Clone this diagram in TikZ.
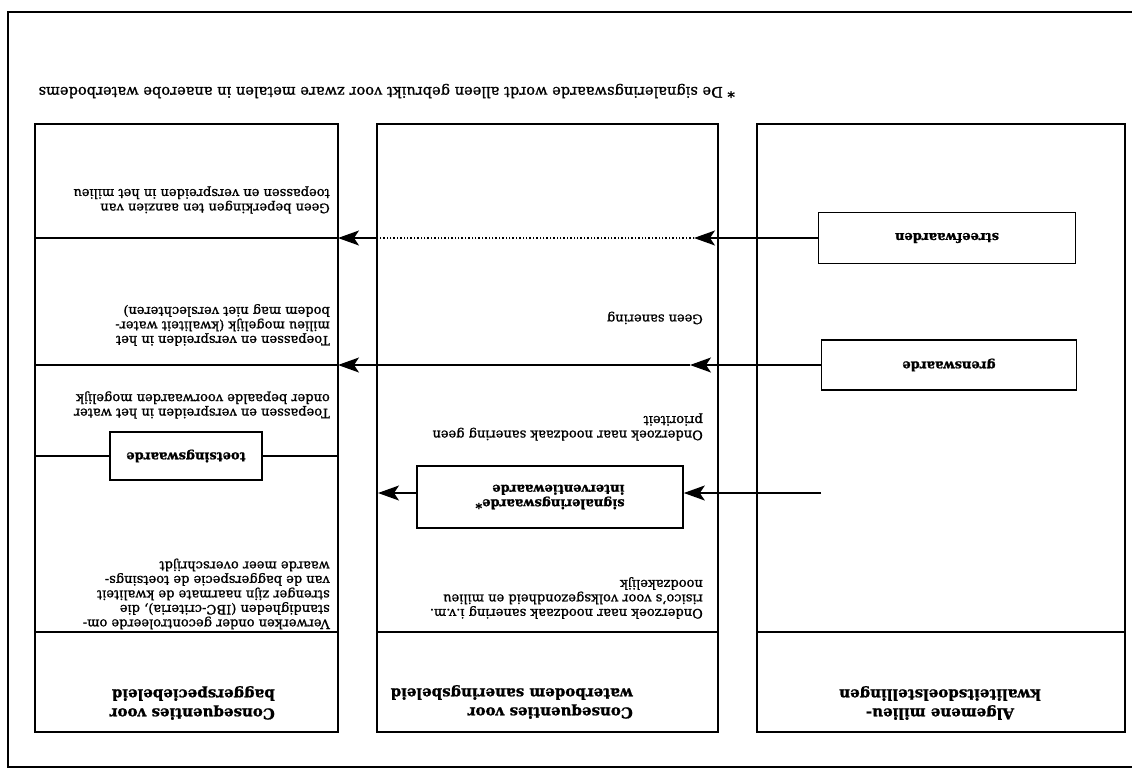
\documentclass[tikz,border=0pt]{standalone}
\usepackage{fontspec}
\setmainfont{DejaVu Serif}[FakeBold=1.2]
\usetikzlibrary{arrows.meta}
\newcommand{\tekstfont}{\fontsize{13}{14.5}\selectfont}
\newcommand{\voetfont}{\fontsize{14.6}{16}\selectfont}
\newcommand{\kopfont}{\fontsize{15}{19}\selectfont\bfseries}

\begin{document}
\begin{tikzpicture}[x=1pt,y=-1pt]
\tikzstyle{kolom} = [line width=2.2pt]
\tikzstyle{scheiding} = [line width=1.5pt]
\tikzstyle{tekst} = [rotate=180,align=left,inner sep=0pt,font=\tekstfont]
\tikzstyle{kop} = [rotate=180,align=left,inner sep=0pt,font=\kopfont]
\tikzstyle{waarde} = [rotate=180,draw,line width=1.6pt,align=left,font=\tekstfont\bfseries]
\tikzstyle{pijl} = [line width=1.4pt,-{Stealth[length=21pt,width=15pt,inset=5pt]}]

\useasboundingbox (0,0) rectangle (1132,769);

% kader
\draw[line width=1.8pt] (1132,12) -- (8,12) -- (8,767) -- (1132,767);

% kolommen
\draw[kolom] (35,124) rectangle (338,732);
\draw[kolom] (377,124) rectangle (718,732);
\draw[kolom] (757,124) rectangle (1125,732);
\draw[scheiding] (35,632) -- (338,632) (377,632) -- (718,632) (757,632) -- (1125,632);

% waarden
\node[waarde, minimum width=257pt, minimum height=51pt] (streef) at (947,238) {streefwaarden};
\node[waarde, minimum width=255pt, minimum height=50pt] (grens) at (949,365) {grenswaarde};
\node[waarde, minimum width=266pt, minimum height=62pt] (signaal) at (550,497) {signaleringswaarde*\\interventiewaarde};
\node[waarde, minimum width=152pt, minimum height=48pt] (toets) at (186,456) {toetsingswaarde};

\draw[scheiding] (35,238) -- (338,238);
\draw[scheiding] (35,365) -- (338,365);
\draw[scheiding] (35,456) -- (toets.east) (toets.west) -- (338,456);

% pijlen
\coordinate (streefpunt) at (694,238);
\coordinate (streefrand) at (377,238);
\coordinate (baggerrand1) at (338,238);
\coordinate (grenspunt) at (690,365);
\coordinate (baggerrand2) at (338,365);
\coordinate (signaalbron) at (821,493);
\coordinate (waterrand) at (378,493);

\draw[pijl] (streef.east) -- (streefpunt);
\draw[line width=1.4pt, dotted] (streefpunt) -- (streefrand);
\draw[pijl] (streefrand) -- (baggerrand1);
\draw[pijl] (grens.east) -- (grenspunt);
\draw[pijl] (grenspunt) -- (baggerrand2);
\draw[pijl] (signaalbron) -- (signaalbron -| signaal.west);
\draw[pijl] (signaal.east |- waterrand) -- (waterrand);

% teksten
\node[kop, anchor=west] (kopbagger) at (275,703) {Consequenties voor\\baggerspeciebeleid};
\node[kop, anchor=west] (kopwater) at (633,702) {Consequenties voor\\waterbodem saneringsbeleid};
\node[kop, align=center] (kopalgemeen) at (940,703) {Algemene milieu-\\kwaliteitsdoelstellingen};

\node[tekst, anchor=west] (verwerken) at (330,594) {Verwerken onder gecontroleerde om-\\standigheden (IBC-criteria), die\\strenger zijn naarmate de kwaliteit\\van de baggerspecie de toetsings-\\waarde meer overschrijdt};
\node[tekst, anchor=west] (water) at (330,405) {Toepassen en verspreiden in het water\\onder bepaalde voorwaarden mogelijk};
\node[tekst, anchor=west] (milieu) at (330,325) {Toepassen en verspreiden in het\\milieu mogelijk (kwaliteit water-\\bodem mag niet verslechteren)};
\node[tekst, anchor=west] (geenbep) at (330,200) {Geen beperkingen ten aanzien van\\toepassen en verspreiden in het milieu};

\node[tekst, anchor=west] (nood) at (703,598) {Onderzoek naar noodzaak sanering i.v.m.\\risico's voor volksgezondheid en milieu\\noodzakelijk};
\node[tekst, anchor=west] (prio) at (703,427) {Onderzoek naar noodzaak sanering geen\\prioriteit};
\node[tekst, anchor=west] (geensan) at (703,318) {Geen sanering};

\node[tekst, anchor=west, font=\voetfont] (voetnoot) at (735,91) {* De signaleringswaarde wordt alleen gebruikt voor zware metalen in anaerobe waterbodems};
\end{tikzpicture}
\end{document}
